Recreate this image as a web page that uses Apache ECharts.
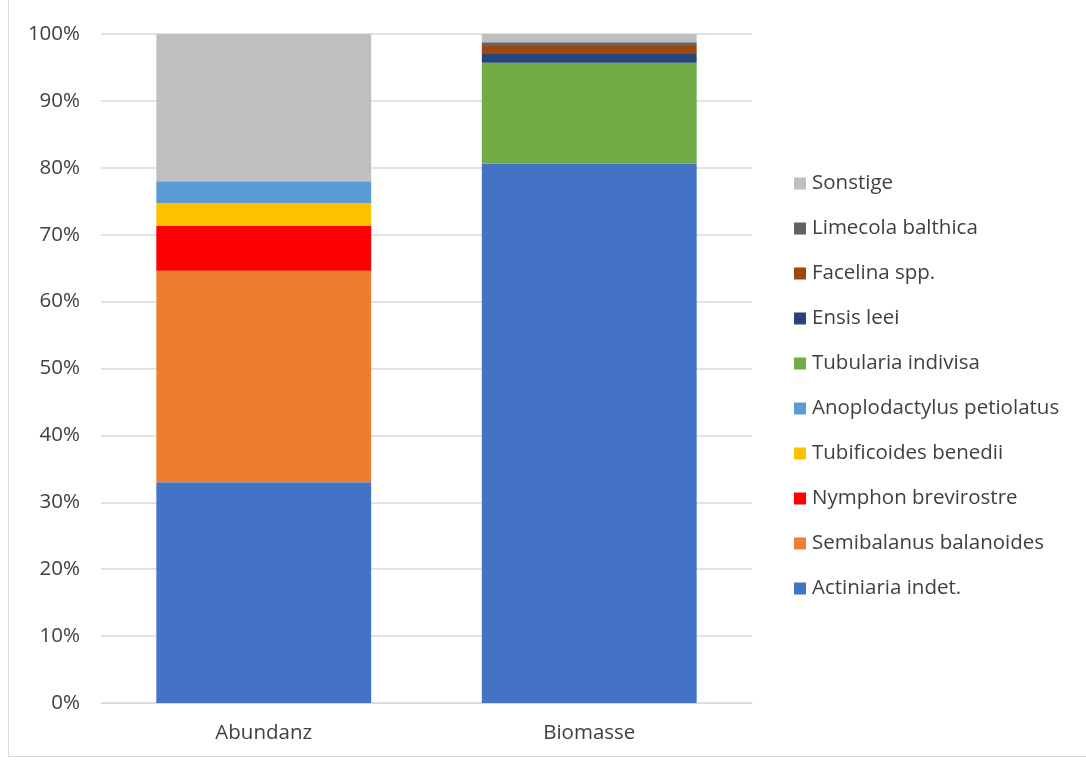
<!DOCTYPE html>
<html>
<head>
<meta charset="utf-8">
<script src="https://cdn.jsdelivr.net/npm/echarts@6/dist/echarts.min.js"></script>
<style>
  html, body { margin: 0; padding: 0; background: #fff; }
  #frame { position: absolute; left: 8px; top: 0; width: 1078px; height: 757px; border-left: 1px solid #d9d9d9; border-bottom: 1px solid #d9d9d9; box-sizing: border-box; }
  #chart { position: absolute; left: 0; top: 0; width: 1086px; height: 762px; }
</style>
</head>
<body>
<div id="frame"></div>
<div id="chart"></div>
<script>
// Categories on the x axis
const categories = ['Abundanz', 'Biomasse'];

// Species (stack order, bottom to top)
const speciesNames = [
  'Actiniaria indet.',
  'Semibalanus balanoides',
  'Nymphon brevirostre',
  'Tubificoides benedii',
  'Anoplodactylus petiolatus',
  'Tubularia indivisa',
  'Ensis leei',
  'Facelina spp.',
  'Limecola balthica',
  'Sonstige'
];

// Share in percent: [Abundanz, Biomasse]
const actiniaria      = [33.0, 80.6];
const semibalanus     = [31.6, 0];
const nymphon         = [6.7, 0];
const tubificoides    = [3.4, 0];
const anoplodactylus  = [3.3, 0];
const tubularia       = [0, 15.1];
const ensis           = [0, 1.3];
const facelina        = [0, 1.2];
const limecola        = [0, 0.55];
const sonstige        = [22.0, 1.25];

const seriesValues = [actiniaria, semibalanus, nymphon, tubificoides, anoplodactylus,
  tubularia, ensis, facelina, limecola, sonstige];

const colors = ['#4472C4', '#ED7D31', '#FF0000', '#FFC000', '#5B9BD5',
  '#70AD47', '#264478', '#9E480E', '#636363', '#BFBFBF'];

const textColor = '#404040';
const fontFamily = '"Open Sans", "Liberation Sans", sans-serif';

const chart = echarts.init(document.getElementById('chart'));

chart.setOption({
  animation: false,
  textStyle: { fontFamily: fontFamily },
  grid: { left: 101, right: 334, top: 34, bottom: 59, containLabel: false },
  legend: {
    orient: 'vertical',
    left: 789,
    top: 168,
    itemWidth: 12,
    itemHeight: 12,
    itemGap: 24,
    icon: 'rect',
    data: speciesNames.slice().reverse(),
    textStyle: { color: textColor, fontSize: 20.5, fontFamily: fontFamily, padding: [0, 0, 0, 1] }
  },
  xAxis: {
    type: 'category',
    data: categories,
    axisLine: { lineStyle: { color: '#d9d9d9', width: 1 } },
    axisTick: { show: false },
    axisLabel: { color: textColor, fontSize: 20.5, margin: 20 }
  },
  yAxis: {
    type: 'value',
    min: 0,
    max: 100,
    interval: 10,
    axisLine: { show: false },
    axisTick: { show: false },
    splitLine: { lineStyle: { color: '#d9d9d9', width: 1.5 } },
    axisLabel: { color: textColor, fontSize: 20.5, margin: 21, formatter: '{value}%' }
  },
  series: speciesNames.map((name, i) => ({
    name: name,
    type: 'bar',
    stack: 'total',
    barWidth: '66%',
    itemStyle: { color: colors[i] },
    data: seriesValues[i]
  }))
});
</script>
</body>
</html>
